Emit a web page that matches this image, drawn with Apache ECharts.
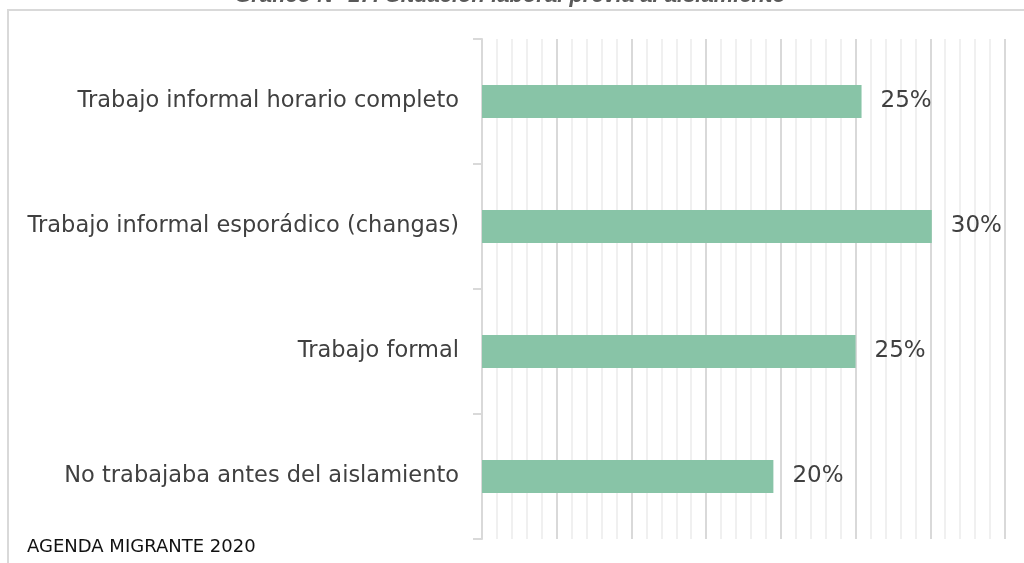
<!DOCTYPE html>
<html>
<head>
<meta charset="utf-8">
<script src="https://cdn.jsdelivr.net/npm/echarts@6/dist/echarts.min.js"></script>
<style>
html,body{margin:0;padding:0;background:#fff;}
#chart{width:1024px;height:563px;}
</style>
</head>
<body>
<div id="chart"></div>
<script>
// situacion laboral previa al aislamiento (%)
var categories = [
  'Trabajo informal horario completo',
  'Trabajo informal esporádico (changas)',
  'Trabajo formal',
  'No trabajaba antes del aislamiento'
];
var values = [25.4, 30.1, 25.0, 19.5];
var titleText = 'Gráfico N° 17: Situación laboral previa al aislamiento';
var sourceText = 'AGENDA MIGRANTE 2020';

var myChart = echarts.init(document.getElementById('chart'));
var font = 'DejaVu Sans';
var option = {
  animation: false,
  title: {
    text: titleText,
    left: 505,
    textAlign: 'center',
    top: -20,
    textStyle: {
      color: '#595959',
      fontSize: 22,
      fontWeight: 'bold',
      fontStyle: 'italic',
      fontFamily: 'Liberation Sans'
    }
  },
  graphic: [
    {
      type: 'rect',
      shape: {x: 8, y: 10, width: 1040, height: 600},
      style: {fill: 'none', stroke: '#d9d9d9', lineWidth: 2},
      silent: true
    },
    {
      type: 'text',
      left: 27,
      top: 538,
      style: {text: sourceText, fill: '#111', font: '18px "' + font + '"'}
    }
  ],
  grid: {left: 482, right: 19, top: 39, bottom: 24},
  xAxis: {
    type: 'value',
    min: 0,
    max: 35,
    interval: 5,
    axisLabel: {show: false},
    axisLine: {show: false},
    axisTick: {show: false},
    splitLine: {show: true, lineStyle: {color: '#d9d9d9', width: 2}},
    minorTick: {show: false, splitNumber: 5},
    minorSplitLine: {show: true, lineStyle: {color: '#f0f0f0', width: 2}}
  },
  yAxis: {
    type: 'category',
    inverse: true,
    data: categories,
    axisLine: {show: true, lineStyle: {color: '#d9d9d9', width: 2}},
    axisTick: {show: true, length: 9, lineStyle: {color: '#d9d9d9', width: 2}},
    axisLabel: {color: '#404040', fontSize: 22.5, fontFamily: font, margin: 23}
  },
  series: [{
    type: 'bar',
    data: values,
    barWidth: 33,
    itemStyle: {color: '#88c4a7'},
    label: {
      show: true,
      position: 'right',
      distance: 19,
      color: '#404040',
      fontSize: 23,
      fontFamily: font,
      formatter: function (p) { return Math.round(p.value) + '%'; }
    }
  }]
};
myChart.setOption(option);
</script>
</body>
</html>
